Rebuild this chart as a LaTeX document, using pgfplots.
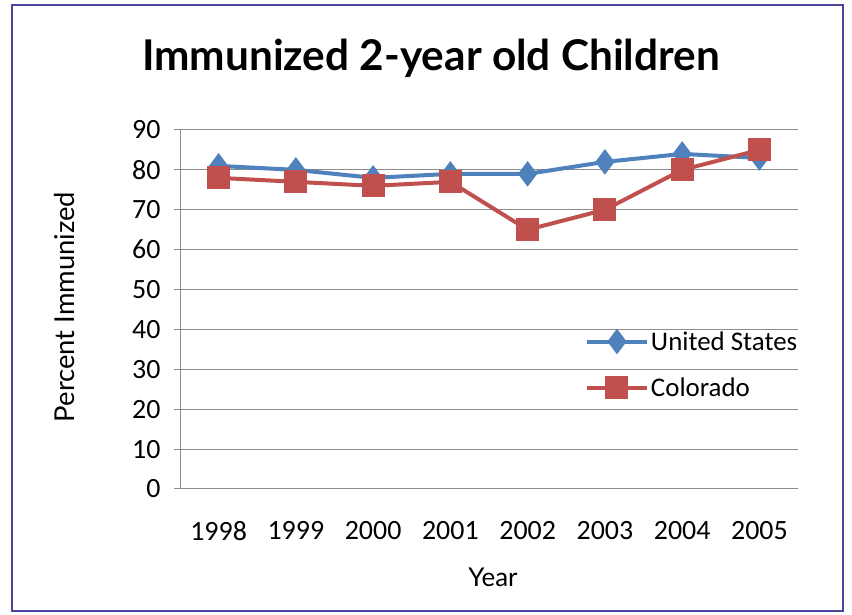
\documentclass[border=0pt]{standalone}
\usepackage{pgfplots}
\pgfplotsset{compat=1.18}
\usepackage{fontspec}
\setmainfont{Carlito}
\newfontfamily\gillfont{Lato}
\definecolor{usblue}{HTML}{4F81BD}
\definecolor{cored}{HTML}{C0504D}
\definecolor{framec}{HTML}{4A46A0}
\definecolor{gridc}{HTML}{8C8C8C}

\begin{document}
\begin{tikzpicture}[x=1bp,y=1bp]
\path (0,0) rectangle (852,615);
\draw[framec, line width=2.5bp] (12,4) rectangle (843,610);
\node[font=\gillfont\bfseries\fontsize{42.5}{48}\selectfont] at (431,557) {Immunized 2-year old Children};
\node[font=\gillfont\fontsize{27.5}{32}\selectfont, rotate=90] at (65,308) {Percent Immunized};
\node[font=\gillfont\fontsize{26}{30}\selectfont] at (493,38) {Year};
\begin{axis}[
    at={(180bp,126bp)}, anchor=south west,
    scale only axis, width=618bp, height=359bp,
    xmin=-0.5, xmax=7.5, ymin=0, ymax=90,
    ytick={0,10,...,90},
    xtick={0,...,7},
    xticklabels={1998,1999,2000,2001,2002,2003,2004,2005},
    major x tick style={draw=none},
    extra x ticks={-0.5,0.5,...,7.5},
    extra x tick labels={},
    extra x tick style={major tick length=8bp, tick style={draw=gridc, line width=1bp}},
    axis x line*=bottom, axis y line*=left,
    axis line style={gridc, line width=1bp, -},
    tick align=outside,
    major tick length=6bp,
    tick style={gridc, line width=1bp},
    ymajorgrids, grid style={gridc, line width=1bp},
    /pgf/number format/assume math mode=true,
    tick label style={font=\fontsize{28}{30}\selectfont, text=black},
    xticklabel style={yshift=-23bp},
    yticklabel style={xshift=-10bp},
    legend style={at={(axis description cs:0.655,0.445)}, anchor=north west,
        draw=none, fill=none, font=\fontsize{27}{30}\selectfont,
        row sep=22bp, inner sep=0pt},
    legend cell align=left,
    legend image code/.code={\draw[mark repeat=2,mark phase=2,#1] plot coordinates {(0bp,0bp) (30bp,0bp) (60bp,0bp)};},
]
\addplot[usblue, line width=4bp, mark=diamond*, mark size=9.5bp, mark options={solid}] coordinates {
(0,81) (1,80) (2,78) (3,79) (4,79) (5,82) (6,84) (7,83)};
\addlegendentry{United States}
\addplot[cored, line width=4bp, mark=square*, mark size=9.5bp, mark options={solid}] coordinates {
(0,78) (1,77) (2,76) (3,77) (4,65) (5,70) (6,80) (7,85)};
\addlegendentry{Colorado}
\end{axis}
\end{tikzpicture}
\end{document}
